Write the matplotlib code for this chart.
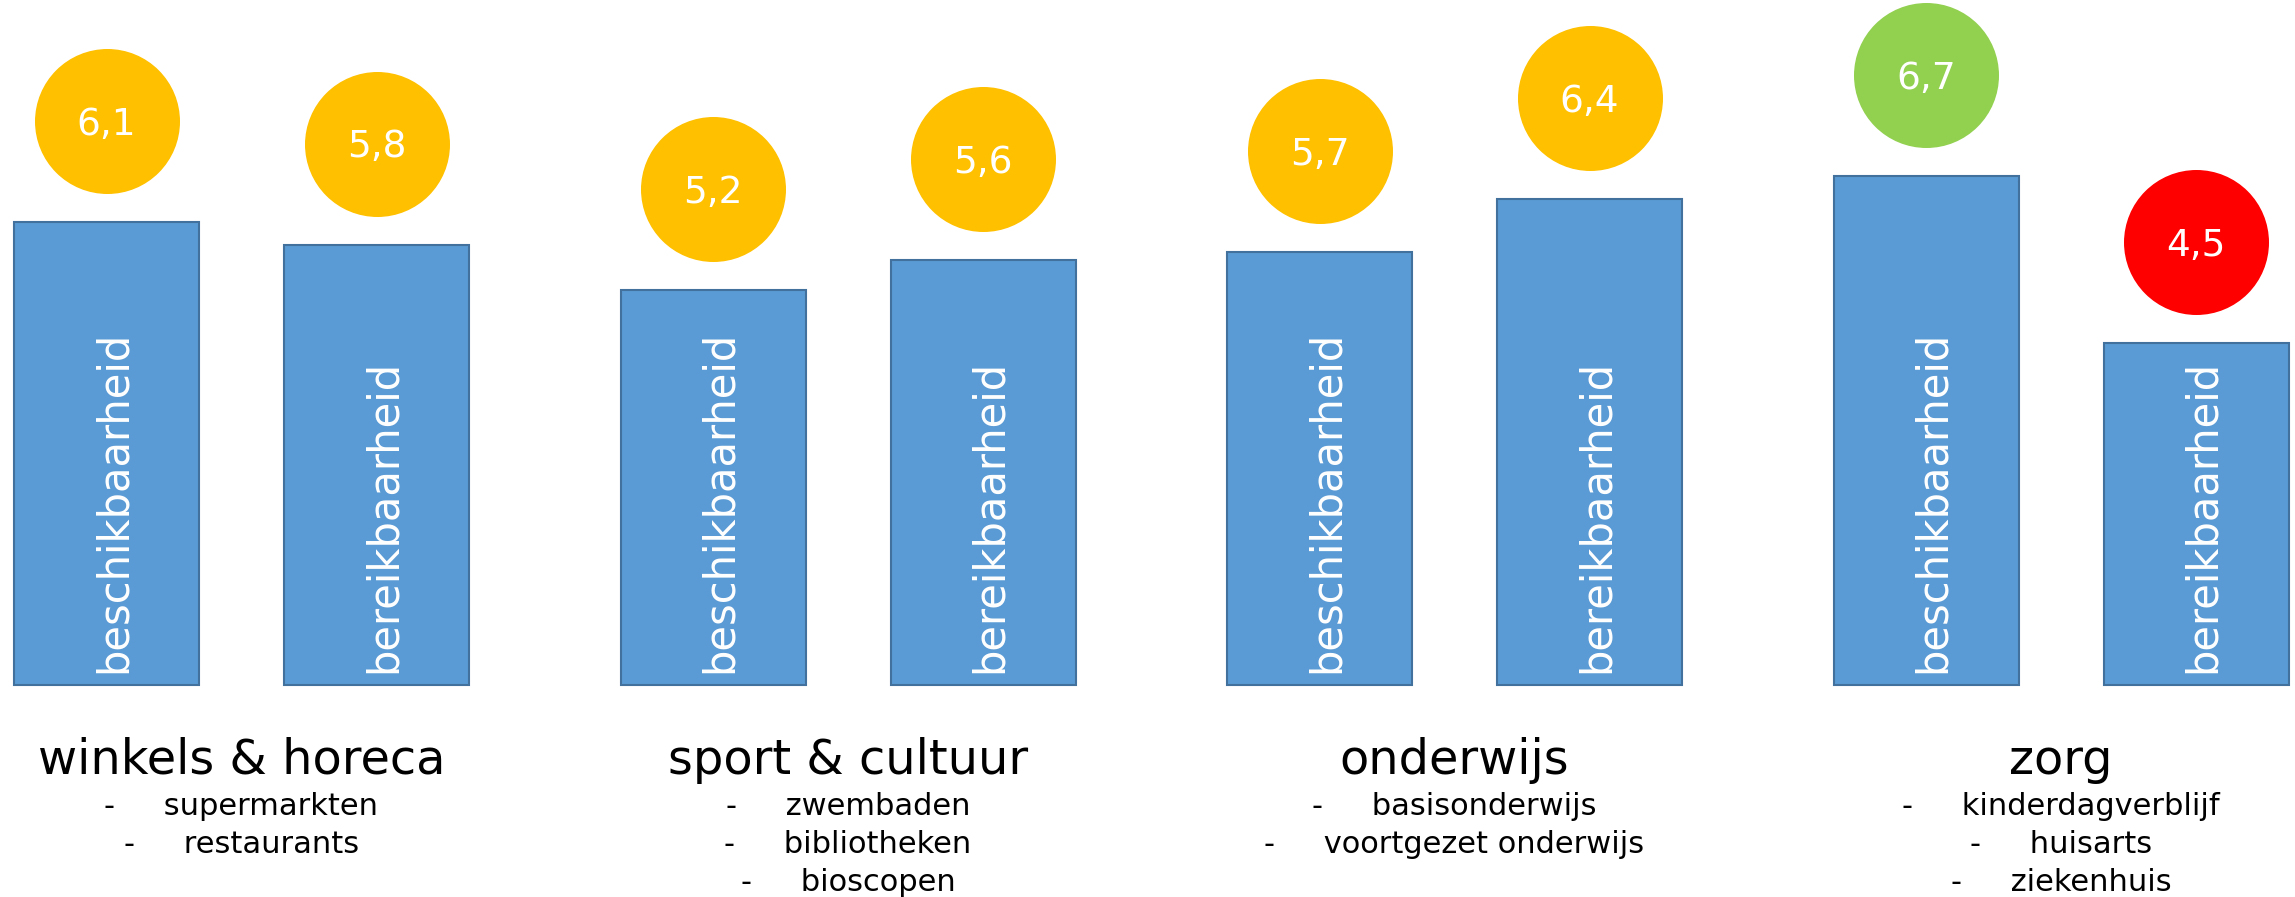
import matplotlib.pyplot as plt
from matplotlib.transforms import ScaledTranslation

# data
groups = ["winkels & horeca", "sport & cultuur", "onderwijs", "zorg"]
items = [
    ["supermarkten", "restaurants"],
    ["zwembaden", "bibliotheken", "bioscopen"],
    ["basisonderwijs", "voortgezet onderwijs"],
    ["kinderdagverblijf", "huisarts", "ziekenhuis"],
]
measures = ["beschikbaarheid", "bereikbaarheid"]
scores = [
    [6.1, 5.8],
    [5.2, 5.6],
    [5.7, 6.4],
    [6.7, 4.5],
]


def score_color(v):
    # groen / geel / rood naar rapportcijfer
    if v >= 6.5:
        return "#92D050"
    if v < 5.0:
        return "#FF0000"
    return "#FFC000"


W, H = 2295, 897
fig = plt.figure(figsize=(W / 100, H / 100), dpi=100)
ax = fig.add_axes([0, 0, 1, 1])
ppu = 75.9  # pixels per punt
ax.set_xlim(0, W)
ax.set_ylim(-212 / ppu, 685 / ppu)
ax.axis("off")

bar_w = 185
half_pair = 135
group_step = 606.5
g0 = 241.5

# cirkels 101 px boven de balk
up = ax.transData + ScaledTranslation(0, 1.01, fig.dpi_scale_trans)

for g, name in enumerate(groups):
    gx = g0 + g * group_step
    xs = [gx - half_pair, gx + half_pair]
    ax.bar(xs, scores[g], width=bar_w, color="#5B9BD5",
           edgecolor="#41719C", linewidth=1.5, zorder=2)

    for x, v, m in zip(xs, scores[g], measures):
        ax.annotate(m, (x, 0), xytext=(13.7, 8.6), textcoords="offset points",
                    rotation=90, rotation_mode="anchor", ha="left",
                    va="baseline", color="white", fontsize=30, zorder=3)
        ax.plot(x, v, "o", ms=104.4, color=score_color(v), mec="none",
                transform=up, zorder=3)
        ax.annotate(f"{v:.1f}".replace(".", ","), (x, v),
                    xytext=(0, 72.7 - 9.8), textcoords="offset points",
                    ha="center", va="baseline", color="white", fontsize=27,
                    zorder=4)

    ax.annotate(name, (gx, 0), xytext=(0, -64), textcoords="offset points",
                ha="center", va="baseline", fontsize=34.5, color="black")
    for k, it in enumerate(items[g]):
        ax.annotate("-     " + it, (gx, 0), xytext=(0, -(93.6 + k * 27.4)),
                    textcoords="offset points", ha="center", va="baseline",
                    fontsize=22, color="black")

fig.savefig("out.png", dpi=100)
